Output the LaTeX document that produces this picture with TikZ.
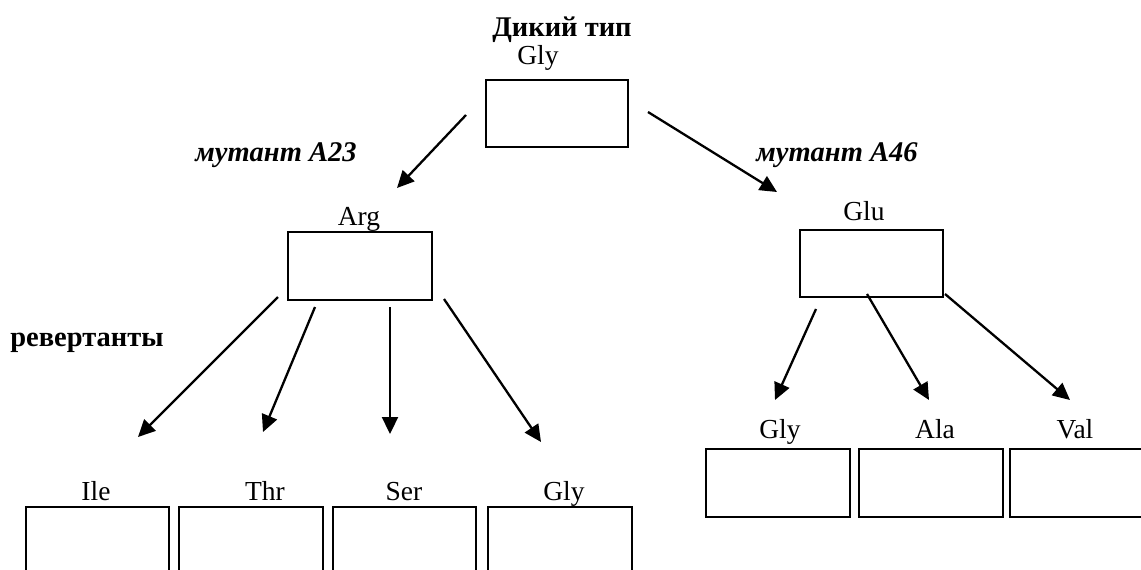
\documentclass[tikz,border=0pt]{standalone}
\usepackage{fontspec}
\setmainfont{Liberation Serif}
\usetikzlibrary{arrows.meta}
\begin{document}
\begin{tikzpicture}[x=1pt,y=-1pt,
  box/.style={draw,line width=1.6pt,inner sep=0pt,outer sep=0pt,anchor=north west},
  lbl/.style={anchor=base,inner sep=0pt,font=\fontsize{27.5}{32}\selectfont},
  head/.style={anchor=base,inner sep=0pt,font=\fontsize{28.5}{33}\selectfont\bfseries},
  mut/.style={anchor=base,inner sep=0pt,font=\fontsize{28.5}{33}\selectfont\bfseries\itshape},
  arr/.style={line width=2.3pt,-{Triangle[length=17pt,width=16pt]}}]
\useasboundingbox (0,0) rectangle (1141,570);
\clip (0,0) rectangle (1141,570);

% wild type
\node[head] (wt) at (562,36) {Дикий тип};
\node[lbl] (lgly0) at (538,64) {Gly};
\node[box,minimum width=142pt,minimum height=67pt] (top) at (486,80) {};

% mutants
\node[mut] (m23) at (276,161) {мутант A23};
\node[mut] (m46) at (837,161) {мутант A46};

\node[lbl] (larg) at (359,225) {Arg};
\node[box,minimum width=144pt,minimum height=68pt] (arg) at (288,232) {};
\node[lbl] (lglu) at (864,220) {Glu};
\node[box,minimum width=143pt,minimum height=67pt] (glu) at (800,230) {};

% revertants
\node[head] (rev) at (87,346) {ревертанты};

\node[lbl] (lile) at (96,500) {Ile};
\node[lbl] (lthr) at (265,500) {Thr};
\node[lbl] (lser) at (404,500) {Ser};
\node[lbl] (lgly1) at (564,500) {Gly};
\node[box,minimum width=143pt,minimum height=100pt] (ile) at (26,507) {};
\node[box,minimum width=144pt,minimum height=100pt] (thr) at (179,507) {};
\node[box,minimum width=143pt,minimum height=100pt] (ser) at (333,507) {};
\node[box,minimum width=144pt,minimum height=100pt] (gly1) at (488,507) {};

\node[lbl] (lgly2) at (780,438) {Gly};
\node[lbl] (lala) at (935,438) {Ala};
\node[lbl] (lval) at (1075,438) {Val};
\node[box,minimum width=144pt,minimum height=68pt] (gly2) at (706,449) {};
\node[box,minimum width=144pt,minimum height=68pt] (ala) at (859,449) {};
% the last box runs off the right edge: only its left, top and bottom sides show
\node[box,draw=none,minimum width=220pt,minimum height=68pt] (val) at (1010,449) {};
\draw[line width=1.6pt] (val.north east) -- (val.north west) -- (val.south west) -- (val.south east);

% arrow ends
\coordinate (t1s) at (466,115); \coordinate (t1e) at (397,188);
\coordinate (t2s) at (648,112); \coordinate (t2e) at (777,192);
\coordinate (a1s) at (278,297); \coordinate (a1e) at (138,437);
\coordinate (a2s) at (315,307); \coordinate (a2e) at (263,432);
\coordinate (a3s) at (390,307); \coordinate (a3e) at (390,434);
\coordinate (a4s) at (444,299); \coordinate (a4e) at (541,442);
\coordinate (g1s) at (816,309); \coordinate (g1e) at (775,400);
\coordinate (g2s) at (867,294); \coordinate (g2e) at (929,400);
\coordinate (g3s) at (945,294); \coordinate (g3e) at (1070,400);

\draw[arr] (t1s) -- (t1e);
\draw[arr] (t2s) -- (t2e);
\draw[arr] (a1s) -- (a1e);
\draw[arr] (a2s) -- (a2e);
\draw[arr] (a3s) -- (a3e);
\draw[arr] (a4s) -- (a4e);
\draw[arr] (g1s) -- (g1e);
\draw[arr] (g2s) -- (g2e);
\draw[arr] (g3s) -- (g3e);
\end{tikzpicture}
\end{document}
